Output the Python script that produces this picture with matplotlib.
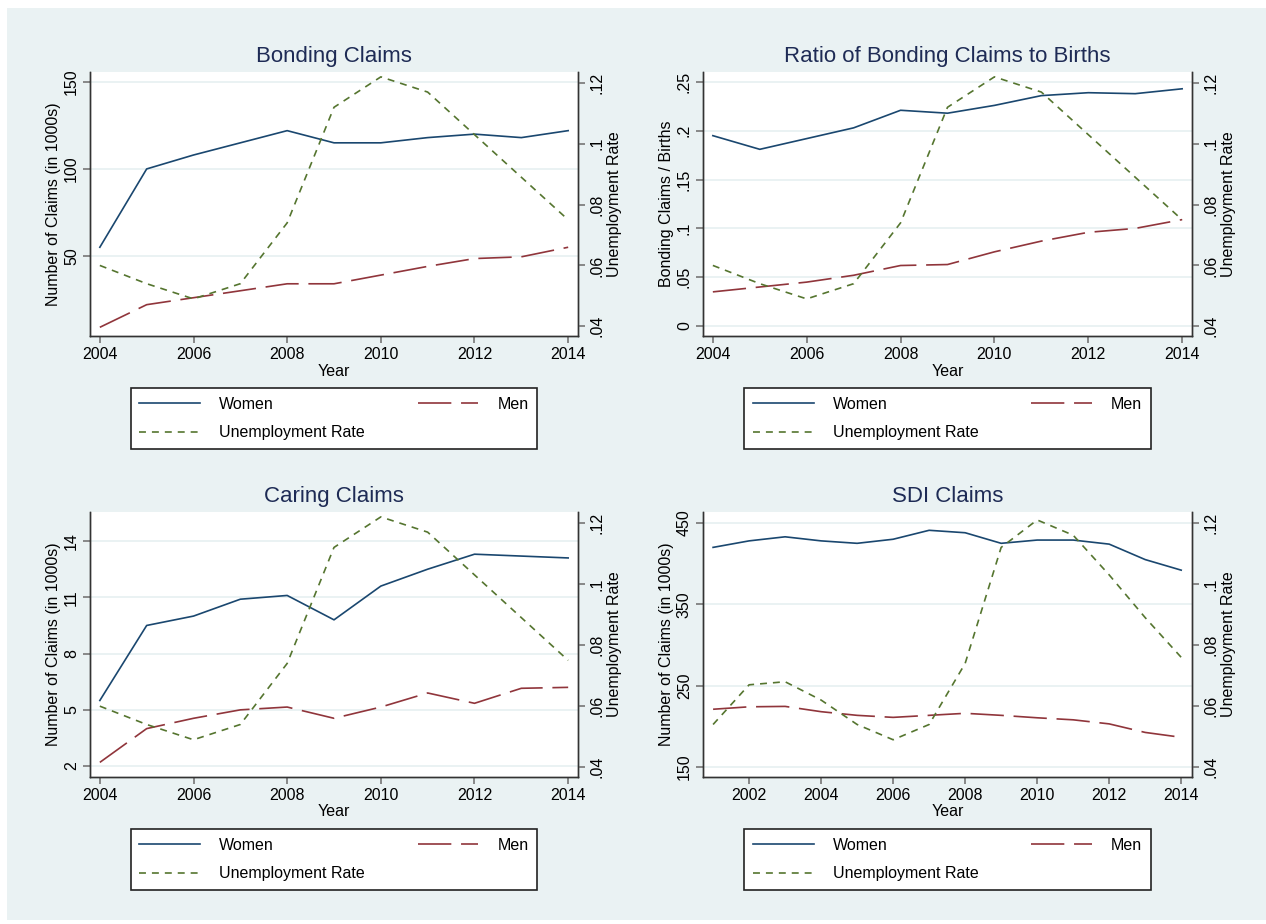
import matplotlib
matplotlib.use("Agg")
import matplotlib.pyplot as plt
from matplotlib.patches import Rectangle
from matplotlib.lines import Line2D

plt.rcParams['font.family'] = ['Liberation Sans', 'DejaVu Sans']
plt.rcParams['lines.scale_dashes'] = False

# --- data -------------------------------------------------------------
years = list(range(2004, 2015))
sdi_years = list(range(2001, 2015))

# unemployment rate
unemp = [0.060, 0.054, 0.049, 0.054, 0.074, 0.112, 0.122, 0.117,
         0.103, 0.089, 0.075]
unemp_sdi = [0.054, 0.067, 0.068, 0.062, 0.054, 0.049, 0.054,
             0.074, 0.112, 0.121, 0.116, 0.103, 0.089, 0.076]

bond_women = [55, 100, 108, 115, 122, 115, 115, 118, 120, 118, 122]
bond_men = [9, 22, 26, 30, 34, 34, 39, 44, 48.5, 49.5, 55]

ratio_women = [0.195, 0.181, 0.192, 0.203, 0.221, 0.218, 0.226,
               0.236, 0.239, 0.238, 0.243]
ratio_men = [0.035, 0.040, 0.045, 0.052, 0.062, 0.063, 0.076,
             0.087, 0.096, 0.100, 0.109]

care_women = [5.5, 9.5, 10.0, 10.9, 11.1, 9.8, 11.6, 12.5, 13.3, 13.2, 13.1]
care_men = [2.2, 4.0, 4.55, 5.0, 5.15, 4.55, 5.15, 5.9, 5.35, 6.15, 6.2]

sdi_women = [420, 428, 433, 428, 425, 430, 441, 438, 425, 429, 429,
             424, 405, 392]
sdi_men = [221, 224, 224.5, 218, 213.5, 211, 213.5, 216, 213.5, 210.5,
           208, 203, 192.5, 186.5]

rate_ticks = [0.04, 0.06, 0.08, 0.10, 0.12]

# --- style ------------------------------------------------------------
W, H = 1266, 924
BG = '#eaf2f3'
NAVY = '#1a476f'
MAROON = '#90353b'
GREEN = '#55752f'
TITLE_C = '#1e2b55'
SPINE_C = '#333333'
TICK_C = '#7f7f7f'
FS = 11.5


def stata_fmt(v):
    s = f'{v:g}'
    if s.startswith('0.'):
        s = s[1:]
    return s


def panel(fig, box, title, x, women, men, rate, ylabel, yticks, ylim,
          xticks, xlim):
    l, t, r, b = box
    ax = fig.add_axes([l / W, 1 - b / H, (r - l) / W, (b - t) / H])
    ax.set_facecolor('white')
    ax2 = ax.twinx()

    ax.plot(x, women, color=NAVY, lw=1.2, solid_joinstyle='round')
    ax.plot(x, men, color=MAROON, lw=1.2, dashes=(24, 7))
    ax2.plot(x, rate, color=GREEN, lw=1.2, dashes=(5, 4.3))

    ax.set_xlim(xlim)
    ax.set_ylim(ylim)
    ax2.set_ylim(0.0368, 0.1236)

    ax.set_xticks(xticks, [str(v) for v in xticks])
    ax.set_yticks(yticks, [stata_fmt(v) for v in yticks],
                  rotation=90, va='center')
    ax2.set_yticks(rate_ticks, [stata_fmt(v) for v in rate_ticks],
                   rotation=90, va='center')

    ax.yaxis.grid(True, color=BG, lw=1.4)
    ax.set_axisbelow(True)

    for a in (ax, ax2):
        a.spines['top'].set_visible(False)
        for s in ('left', 'right', 'bottom'):
            a.spines[s].set_color(SPINE_C)
            a.spines[s].set_linewidth(1.0)
        a.tick_params(direction='out', length=5, width=1.3, color=TICK_C,
                      labelsize=FS, labelcolor='black')
    ax.tick_params(axis='y', pad=3)
    ax2.tick_params(axis='y', pad=3)
    ax.tick_params(axis='x', pad=3)

    ax.set_xlabel('Year', fontsize=FS, labelpad=1)
    ax.set_ylabel(ylabel, fontsize=FS, labelpad=2)
    ax2.set_ylabel('Unemployment Rate', fontsize=FS, labelpad=2)
    ax.set_title(title, fontsize=16, color=TITLE_C, pad=7)

    handles = [
        Line2D([], [], color=NAVY, lw=1.2),
        Line2D([], [], color=GREEN, lw=1.2, dashes=(5, 4.3)),
        Line2D([], [], color=MAROON, lw=1.2, dashes=(24, 7)),
    ]
    labels = ['Women', 'Unemployment Rate', 'Men']
    leg = ax2.legend(handles, labels, ncol=2, loc='upper center',
                     bbox_to_anchor=((l + r) / 2 / W, 1 - (b + 52) / H),
                     bbox_transform=fig.transFigure, borderaxespad=0,
                     fontsize=FS, handlelength=3.8, handletextpad=1.2,
                     columnspacing=3.3, labelspacing=0.85, borderpad=0.55,
                     fancybox=False, framealpha=1)
    leg.get_frame().set_edgecolor('#222222')
    leg.get_frame().set_linewidth(1.2)
    return ax, ax2


fig = plt.figure(figsize=(W / 100, H / 100), dpi=100)
fig.patch.set_facecolor('white')
fig.patches.append(Rectangle((7 / W, 1 - 920 / H), (W - 7) / W, 912 / H,
                             transform=fig.transFigure, facecolor=BG,
                             edgecolor='none', zorder=-10))

xl = (2003.79, 2014.21)
ticks_x = [2004, 2006, 2008, 2010, 2012, 2014]

panel(fig, (90, 72, 578, 336), 'Bonding Claims', years, bond_women,
      bond_men, unemp, 'Number of Claims (in 1000s)', [50, 100, 150],
      (4.0, 155.7), ticks_x, xl)

panel(fig, (703, 72, 1192, 336), 'Ratio of Bonding Claims to Births',
      years, ratio_women, ratio_men, unemp, 'Bonding Claims / Births',
      [0, 0.05, 0.1, 0.15, 0.2, 0.25], (-0.0102, 0.2602), ticks_x, xl)

panel(fig, (90, 512, 578, 777), 'Caring Claims', years, care_women,
      care_men, unemp, 'Number of Claims (in 1000s)', [2, 5, 8, 11, 14],
      (1.42, 15.55), ticks_x, xl)

panel(fig, (703, 512, 1192, 777), 'SDI Claims', sdi_years, sdi_women,
      sdi_men, unemp_sdi, 'Number of Claims (in 1000s)',
      [150, 250, 350, 450], (137.7, 463.5),
      [2002, 2004, 2006, 2008, 2010, 2012, 2014], (2000.72, 2014.3))

fig.savefig('out.png', dpi=100, facecolor=fig.get_facecolor())
